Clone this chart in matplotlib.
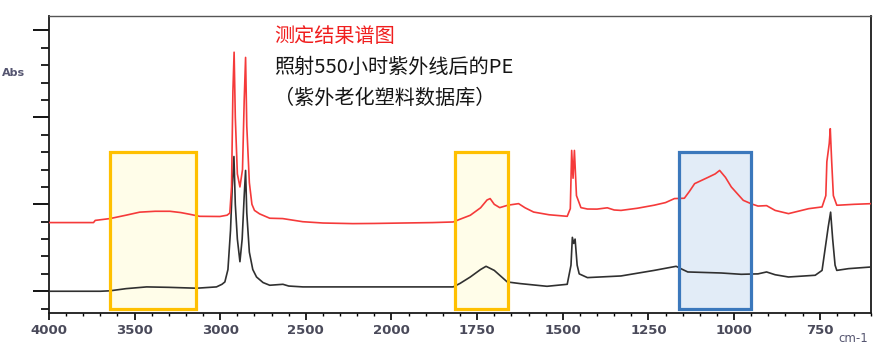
# ftir_pe_uv_aging.py
import numpy as np
import matplotlib.pyplot as plt
from matplotlib.patches import Rectangle

plt.rcParams['font.family'] = ['DejaVu Sans']

# 测定结果 (红色: 照射后, 黑色: 照射前)
red_wn = [4000, 3740, 3730, 3644, 3550, 3470, 3380, 3294, 3230, 3177, 3120, 3002, 2960, 2944,
          2934, 2926, 2919, 2912, 2900, 2885, 2870, 2860, 2852, 2845, 2830, 2815, 2800, 2770,
          2711, 2635, 2518, 2400, 2225, 2100, 1967, 1880, 1820, 1799, 1770, 1740, 1721, 1712,
          1700, 1684, 1660, 1629, 1610, 1585, 1540, 1487, 1478, 1474, 1470, 1466, 1460, 1447,
          1428, 1400, 1370, 1350, 1330, 1282, 1233, 1200, 1174, 1145, 1130, 1115, 1076, 1055,
          1042, 1025, 1008, 973, 949, 930, 905, 880, 841, 782, 743, 732, 729, 722, 719, 715,
          710, 700, 695, 650, 597]
red_abs = [0.79, 0.79, 0.815, 0.836, 0.875, 0.91, 0.92, 0.92, 0.905, 0.885, 0.862, 0.86, 0.875, 0.90,
           1.2, 2.3, 2.75, 2.0, 1.35, 1.2, 1.4, 2.2, 2.69, 1.9, 1.25, 1.0, 0.93, 0.89,
           0.84, 0.836, 0.80, 0.785, 0.778, 0.78, 0.785, 0.79, 0.797, 0.83, 0.874, 0.96, 1.05, 1.066,
           1.0, 0.962, 0.99, 1.008, 0.96, 0.911, 0.88, 0.862, 0.95, 1.62, 1.3, 1.62, 1.1, 0.962,
           0.946, 0.945, 0.96, 0.935, 0.93, 0.955, 0.99, 1.02, 1.066, 1.07, 1.15, 1.238, 1.31, 1.35,
           1.39, 1.31, 1.2, 1.046, 1.005, 0.98, 0.985, 0.93, 0.893, 0.95, 0.97, 1.1, 1.49, 1.7, 1.87, 1.5,
           1.1, 0.99, 0.99, 1.0, 1.008]

black_wn = [4000, 3700, 3644, 3550, 3430, 3300, 3138, 3022, 2990, 2973, 2955, 2940, 2930, 2920,
            2912, 2900, 2885, 2872, 2860, 2852, 2845, 2830, 2810, 2788, 2750, 2711, 2634, 2600,
            2517, 2127, 1820, 1800, 1770, 1740, 1724, 1700, 1662, 1624, 1546, 1487, 1476, 1472,
            1468, 1464, 1458, 1452, 1428, 1330, 1233, 1169, 1150, 1135, 1037, 979, 930, 905,
            880, 841, 763, 743, 730, 725, 718, 712, 705, 700, 666, 597]
black_abs = [0.0, 0.0, 0.005, 0.03, 0.05, 0.045, 0.035, 0.05, 0.08, 0.107, 0.25, 0.7, 1.2, 1.55,
             1.0, 0.6, 0.34, 0.6, 1.1, 1.39, 0.9, 0.45, 0.25, 0.164, 0.1, 0.069, 0.08, 0.06,
             0.05, 0.05, 0.05, 0.09, 0.164, 0.25, 0.287, 0.24, 0.107, 0.088, 0.057, 0.08, 0.3, 0.62,
             0.55, 0.6, 0.3, 0.2, 0.157, 0.176, 0.24, 0.287, 0.25, 0.222, 0.21, 0.195, 0.2, 0.222,
             0.19, 0.164, 0.184, 0.24, 0.6, 0.74, 0.91, 0.6, 0.3, 0.24, 0.26, 0.28]

# 标注框 (波数范围)
yellow_boxes = [(3645, 3140), (1814, 1660)]
blue_box = (1161, 949)
box_bottom = -0.205
box_top = 1.6

x_ticks = [4000, 3500, 3000, 2500, 2000, 1750, 1500, 1250, 1000, 750]


# 2000 cm-1 以下横轴放大两倍
def fwd(x):
    x = np.asarray(x, dtype=float)
    return np.where(x < 2000, x, 2000 + (x - 2000) / 2)


def inv(u):
    u = np.asarray(u, dtype=float)
    return np.where(u < 2000, u, 2000 + (u - 2000) * 2)


fig = plt.figure(figsize=(8.92, 3.51), dpi=100)
ax = fig.add_axes([0.0549, 0.1083, 0.9216, 0.847])
ax.set_xscale('function', functions=(fwd, inv))
ax.set_xlim(4000, 600)
ax.set_ylim(-0.25, 3.17)

# 框
for x0, x1 in yellow_boxes:
    ax.add_patch(Rectangle((x0, box_bottom), x1 - x0, box_top - box_bottom,
                           facecolor='#FFFDE9', edgecolor='none', zorder=1))
    ax.add_patch(Rectangle((x0, box_bottom), x1 - x0, box_top - box_bottom,
                           facecolor='none', edgecolor='#FFC000', linewidth=2.3, zorder=4))
ax.add_patch(Rectangle((blue_box[0], box_bottom), blue_box[1] - blue_box[0], box_top - box_bottom,
                       facecolor='#E2ECF7', edgecolor='none', zorder=1))
ax.add_patch(Rectangle((blue_box[0], box_bottom), blue_box[1] - blue_box[0], box_top - box_bottom,
                       facecolor='none', edgecolor='#3B78BC', linewidth=2.3, zorder=4))

# 谱线
ax.plot(black_wn, black_abs, color='#303030', linewidth=1.2, zorder=3)
ax.plot(red_wn, red_abs, color='#F53A3A', linewidth=1.2, zorder=3)

# 坐标轴
ax.set_xticks(x_ticks)
ax.set_xticklabels([str(t) for t in x_ticks])
minor = list(range(4000, 2000, -100)) + list(range(2000, 599, -50))
ax.set_xticks(minor, minor=True)
ax.set_yticks([0, 1, 2, 3])
ax.set_yticks(np.arange(-0.2, 3.15, 0.2), minor=True)
ax.set_yticklabels([])

ax.tick_params(axis='x', which='major', direction='out', length=5, width=1.2,
               labelsize=9.5, labelcolor='#4a4a5a', pad=3)
ax.tick_params(axis='x', which='minor', direction='out', length=2.5, width=1.0)
ax.tick_params(axis='y', which='major', direction='out', length=11.5, width=1.3)
ax.tick_params(axis='y', which='minor', direction='out', length=5.8, width=1.2)
for lab in ax.get_xticklabels():
    lab.set_fontweight('bold')

for side in ['left', 'bottom', 'right']:
    ax.spines[side].set_color('#1a1a1a')
    ax.spines[side].set_linewidth(1.3)
ax.spines['top'].set_color('#555555')
ax.spines['top'].set_linewidth(1.0)

fig.text(2 / 892, 1 - 73 / 351, 'Abs', fontsize=8, fontweight='bold', color='#555570',
         ha='left', va='center')
fig.text(868 / 892, 1 - 339 / 351, 'cm-1', fontsize=8.5, color='#555570',
         ha='right', va='center')

# 标题文字
cjk = ['Noto Sans CJK SC', 'DejaVu Sans']
fig.text(274 / 892, 1 - 37 / 351, '测定结果谱图', fontsize=14.5, color='#F01E1E',
         family=cjk, ha='left', va='center')
fig.text(274 / 892, 1 - 67 / 351, '照射550小时紫外线后的PE', fontsize=14.5, color='#151515',
         family=cjk, ha='left', va='center')
fig.text(274 / 892, 1 - 98 / 351, '（紫外老化塑料数据库）', fontsize=14.5, color='#151515',
         family=cjk, ha='left', va='center')

plt.savefig('out.png', dpi=100)
